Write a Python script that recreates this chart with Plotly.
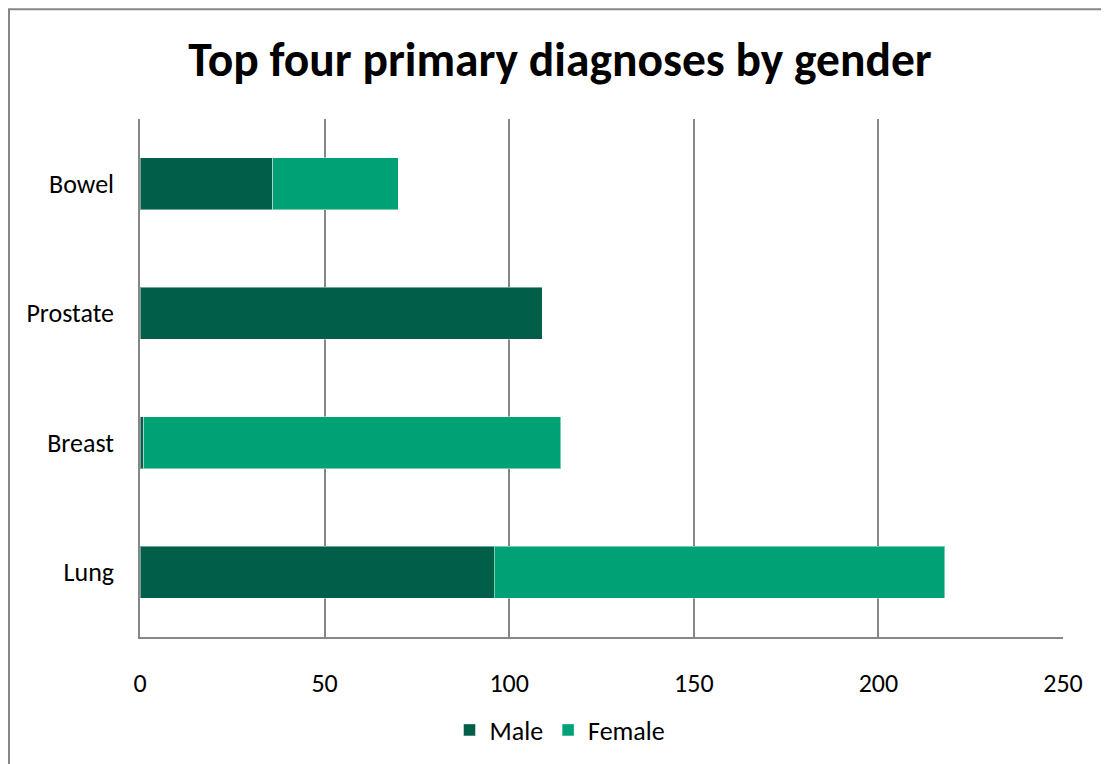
import plotly.graph_objects as go

categories = ["Lung", "Breast", "Prostate", "Bowel"]
male = [96, 1, 109, 36]
female = [122, 113, 0, 34]
x_ticks = [0, 50, 100, 150, 200, 250]

# page body has an 8px margin, so the figure is drawn offset by (8, 8)
OFF = 8
W, H = 1109 - OFF, 764 - OFF
L, R, T, B = 140 - OFF, 1063 - OFF, 119 - OFF, 638 - OFF
PH = B - T
PW = R - L

fig = go.Figure()
fig.add_trace(go.Bar(y=categories, x=male, name="Male", orientation="h",
                     marker=dict(color="#005E49", line=dict(color="rgba(255,255,255,0.45)", width=1))))
fig.add_trace(go.Bar(y=categories, x=female, name="Female", orientation="h",
                     marker=dict(color="#00A275", line=dict(color="rgba(255,255,255,0.45)", width=1))))

font_family = "Carlito, Calibri, Lato, 'Open Sans', sans-serif"

fig.update_layout(
    width=W, height=H,
    barmode="stack", bargap=0.6,
    margin=dict(l=L, r=W - R, t=T, b=H - B, pad=0),
    paper_bgcolor="white", plot_bgcolor="white",
    font=dict(family=font_family, size=26, color="black"),
    title=dict(text="<b>Top four primary diagnoses by gender</b>",
               x=(560 - OFF - L) / PW, xref="paper", xanchor="center",
               y=1 - (59 - OFF) / H, yanchor="middle",
               font=dict(size=47.5, family=font_family, color="black")),
    xaxis=dict(range=[0, 250], tickvals=x_ticks, ticktext=[str(v) for v in x_ticks],
               showgrid=True, gridcolor="#868686", gridwidth=1.5,
               zeroline=False, showline=True, linecolor="#868686", linewidth=1.5,
               ticks="", ticklabelstandoff=22, tickfont=dict(size=26)),
    yaxis=dict(showgrid=False, zeroline=False, showline=True, linecolor="#868686",
               linewidth=1.5, ticks="", ticklabelstandoff=19, tickfont=dict(size=26)),
    legend=dict(orientation="h", x=(560 - OFF - L) / PW, xanchor="center",
                y=-(730 - OFF - B) / PH, yanchor="middle", font=dict(size=26),
                traceorder="normal"),
    shapes=[dict(type="rect", xref="paper", yref="paper",
                 x0=(1 - L) / PW, x1=(W + 10 - L) / PW,
                 y0=(B - (H + 10)) / PH, y1=(B - 1) / PH,
                 line=dict(color="#868686", width=2), fillcolor="rgba(0,0,0,0)",
                 layer="below")],
)

fig.write_html("out.html")
